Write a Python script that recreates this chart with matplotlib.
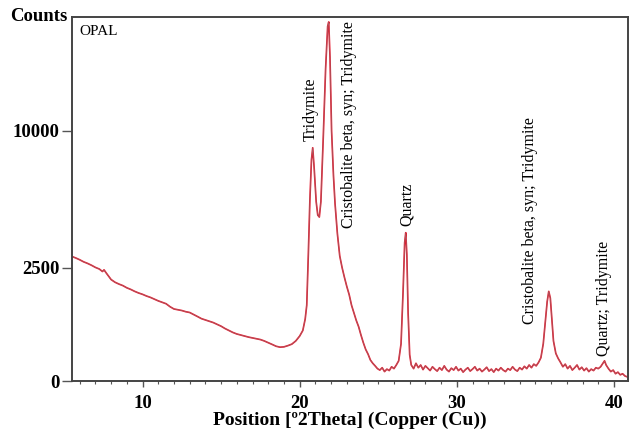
import numpy as np
import matplotlib
matplotlib.use("Agg")
import matplotlib.pyplot as plt

# ---- data ----
two_theta = [
    5.5, 5.75, 6.0, 6.25, 6.5, 6.75, 7.0, 7.25, 7.45, 7.55, 7.7, 8.0, 8.25, 8.5, 8.75,
    9.0, 9.25, 9.5, 9.75, 10.0, 10.25, 10.5, 10.75, 11.0, 11.25, 11.5, 11.75, 12.0,
    12.25, 12.5, 12.75, 13.0, 13.25, 13.5, 13.75, 14.0, 14.25, 14.5, 14.75, 15.0,
    15.25, 15.5, 15.75, 16.0, 16.25, 16.5, 16.75, 17.0, 17.25, 17.5, 17.75, 18.0,
    18.25, 18.5, 18.75, 19.0, 19.25, 19.5, 19.75, 20.0, 20.2, 20.35, 20.45, 20.55,
    20.65, 20.75, 20.83, 20.92, 21.05, 21.15, 21.25, 21.35, 21.5, 21.65, 21.78,
    21.85, 21.93, 22.03, 22.15, 22.25, 22.4, 22.55, 22.7, 22.85, 23.0, 23.15, 23.3,
    23.45, 23.6, 23.75, 23.9, 24.05, 24.2, 24.35, 24.5, 24.65, 24.8, 24.95, 25.1,
    25.25, 25.4, 25.55, 25.7, 25.85, 26.0, 26.15, 26.3, 26.45, 26.58, 26.68, 26.75,
    26.82, 26.9, 27.0, 27.1, 27.25, 27.4, 27.55, 27.7, 27.85, 28.0, 28.15, 28.3,
    28.45, 28.6, 28.75, 28.9, 29.05, 29.2, 29.35, 29.5, 29.65, 29.8, 29.95, 30.1,
    30.25, 30.4, 30.55, 30.7, 30.85, 31.0, 31.15, 31.3, 31.45, 31.6, 31.75, 31.9,
    32.05, 32.2, 32.35, 32.5, 32.65, 32.8, 32.95, 33.1, 33.25, 33.4, 33.55, 33.7,
    33.85, 34.0, 34.15, 34.3, 34.45, 34.6, 34.75, 34.9, 35.05, 35.2, 35.35, 35.5,
    35.62, 35.75, 35.85, 35.95, 36.05, 36.15, 36.3, 36.45, 36.6, 36.75, 36.9, 37.05,
    37.2, 37.35, 37.5, 37.65, 37.8, 37.95, 38.1, 38.25, 38.4, 38.55, 38.7, 38.85,
    39.0, 39.15, 39.3, 39.4, 39.5, 39.65, 39.8, 39.95, 40.1, 40.25, 40.4, 40.55,
    40.7, 40.9,
]
counts = [
    2930, 2870, 2800, 2720, 2660, 2590, 2510, 2450, 2360, 2420, 2300, 2080, 1990, 1930, 1880,
    1810, 1760, 1700, 1650, 1610, 1560, 1520, 1470, 1420, 1380, 1340, 1260, 1200,
    1180, 1160, 1130, 1110, 1060, 1010, 960, 930, 900, 870, 830, 790,
    740, 700, 660, 630, 610, 590, 570, 555, 540, 525, 500, 470,
    440, 410, 395, 400, 420, 445, 500, 590, 700, 950, 1300, 3000,
    5600, 8000, 8800, 7500, 5500, 4800, 4700, 5500, 9500, 15000, 19000,
    19450, 16000, 10000, 7000, 5400, 3900, 2950, 2500, 2150, 1850, 1600, 1300,
    1100, 920, 780, 610, 470, 360, 290, 210, 170, 140, 110, 95,
    120, 80, 105, 90, 130, 110, 150, 200, 450, 1700, 3500, 3950,
    3000, 1100, 280, 150, 110, 170, 120, 150, 100, 140, 115, 90,
    130, 105, 85, 120, 95, 140, 100, 80, 115, 95, 130, 90,
    110, 75, 100, 120, 85, 105, 130, 90, 110, 80, 100, 125,
    85, 105, 75, 110, 90, 120, 95, 80, 110, 95, 130, 100,
    85, 120, 100, 135, 110, 150, 120, 160, 140, 180, 240, 450,
    850, 1400, 1700, 1500, 950, 500, 300, 230, 180, 130, 160, 110,
    140, 95, 120, 150, 100, 125, 90, 115, 80, 105, 90, 120,
    110, 130, 170, 200, 150, 110, 80, 95, 60, 75, 50, 60,
    40, 30,
]

peak_labels = ["Tridymite", "Cristobalite beta, syn; Tridymite", "Quartz",
               "Cristobalite beta, syn; Tridymite", "Quartz; Tridymite"]
label_x = [20.7, 23.12, 26.8, 34.65, 39.36]
label_y = [9300, 4150, 4250, 830, 262]

y_ticks = [0, 2500, 10000]
x_ticks = [10, 20, 30, 40]

# ---- plot ----
serif = ["Liberation Serif", "DejaVu Serif"]
fig = plt.figure(figsize=(6.3, 4.36), dpi=100)
ax = fig.add_axes([0.114, 0.126, 0.883, 0.835])

fwd = lambda v: np.sqrt(np.clip(v, 0, None) + 100.0) - 10.0
inv = lambda u: (u + 10.0) ** 2 - 100.0
ax.set_yscale("function", functions=(fwd, inv))

ax.plot(two_theta, counts, color="#e8172c", lw=1.2)
ax.plot(two_theta, counts, color="#8a7878", lw=0.5, alpha=0.75)

ax.set_xlim(5.5, 40.9)
ax.set_ylim(0, 19950)
ax.set_xticks(x_ticks)
ax.set_xticks(np.arange(6, 41, 1), minor=True)
ax.set_yticks(y_ticks)
ax.set_yticklabels([str(t) for t in y_ticks])
ax.yaxis.set_minor_locator(matplotlib.ticker.NullLocator())

for lab in ax.get_xticklabels() + ax.get_yticklabels():
    lab.set_fontfamily(serif)
    lab.set_fontweight("bold")
    lab.set_fontsize(13.5)

ax.tick_params(axis="y", which="major", direction="out", length=7,
               width=1, color="#555555", pad=2)
ax.tick_params(axis="x", which="major", direction="out", length=4,
               width=1, color="#555555", pad=6)
ax.tick_params(axis="x", which="minor", direction="out", length=2.5,
               width=0.8, color="#555555")
for s in ax.spines.values():
    s.set_linewidth(1.4)
    s.set_color("#444444")

ax.set_xlabel("Position [º2Theta] (Copper (Cu))", fontfamily=serif,
              fontweight="bold", fontsize=14, labelpad=0)
fig.text(0.107, 0.962, "Counts", fontfamily=serif, fontweight="bold",
         fontsize=13.5, ha="right", va="center")
ax.text(0.014, 0.978, "OPAL", transform=ax.transAxes, fontfamily=serif,
        fontsize=11, ha="left", va="top")

for t, x, y in zip(peak_labels, label_x, label_y):
    ax.text(x, y, t, rotation=90, ha="center", va="bottom",
            fontfamily=serif, fontsize=11.5)

fig.savefig("out.png", dpi=100)
